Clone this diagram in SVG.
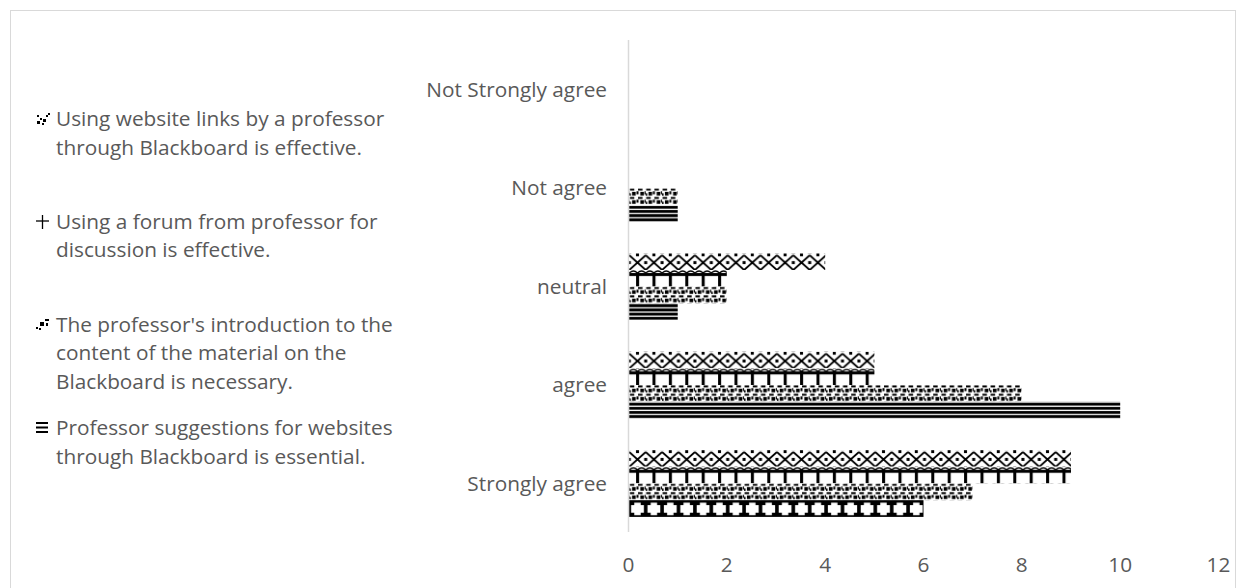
<svg xmlns="http://www.w3.org/2000/svg" width="1246" height="588" viewBox="0 0 1246 588">
<style>
.t{font-family:"Open Sans","Liberation Sans",sans-serif;font-size:20.8px;fill:#595959}
.cat{text-anchor:end}
.tick{text-anchor:middle}
</style>
<defs>
<pattern id="pLinks" patternUnits="userSpaceOnUse" width="16.4" height="16.7">
<rect width="16.4" height="16.7" fill="#fff"/>
<path d="M0,2 L16.4,16.7 M16.4,2 L0,16.7" stroke="#000" stroke-width="1.8" fill="none"/>
<rect x="6.7" y="0" width="3" height="3" fill="#000"/>
<rect x="6.7" y="7.8" width="3" height="3" fill="#000"/>
<rect x="-1.5" y="7.8" width="3" height="3" fill="#000"/>
<rect x="14.9" y="7.8" width="3" height="3" fill="#000"/>
</pattern>
<pattern id="pForum" patternUnits="userSpaceOnUse" width="16.4" height="16.7">
<rect width="16.4" height="16.7" fill="#fff"/>
<path d="M0,3 Q4,-1 8.2,3 Q12.4,-1 16.4,3" stroke="#000" stroke-width="1.3" fill="none"/>
<rect x="0" y="3" width="16.4" height="3" fill="#000"/>
<rect x="6.8" y="3" width="3" height="13.7" fill="#000"/>
</pattern>
<pattern id="pIntro" patternUnits="userSpaceOnUse" width="16.4" height="8.35">
<rect width="16.4" height="8.35" fill="#fff"/>
<rect x="0.5" y="0.3" width="4.5" height="2" fill="#000"/>
<rect x="8.7" y="0.3" width="4.5" height="2" fill="#000"/>
<rect x="2.8" y="3.6" width="3.6" height="3.6" fill="#000"/>
<rect x="11" y="3.6" width="3.6" height="3.6" fill="#000"/>
<rect x="7.2" y="3" width="2" height="3" fill="#000"/>
<rect x="15.2" y="3" width="1.2" height="3" fill="#000"/>
<rect x="0" y="5" width="1.5" height="2.4" fill="#000"/>
</pattern>
<pattern id="pStripes" patternUnits="userSpaceOnUse" width="8" height="4.175">
<rect width="8" height="4.175" fill="#fff"/>
<rect y="0.9" width="8" height="2.9" fill="#000"/>
</pattern>
<pattern id="pOct" patternUnits="userSpaceOnUse" width="16.4" height="16.7">
<rect width="16.4" height="16.7" fill="#000"/>
<polygon points="5,2.5 11.4,2.5 11.4,5 14.6,5 14.6,12.5 11.4,12.5 11.4,15 5,15 5,12.5 1.8,12.5 1.8,5 5,5" fill="#fff"/>
</pattern>
</defs>

<rect id="chartArea" x="10.5" y="10.5" width="1225" height="600" fill="#fff" stroke="#d9d9d9" stroke-width="1"/>

<g id="axis">
<line x1="628.5" y1="40" x2="628.5" y2="532" stroke="#d9d9d9" stroke-width="1.5"/>
<text class="t tick" x="628.5" y="571.5">0</text>
<text class="t tick" x="726.8" y="571.5">2</text>
<text class="t tick" x="825.2" y="571.5">4</text>
<text class="t tick" x="923.5" y="571.5">6</text>
<text class="t tick" x="1021.8" y="571.5">8</text>
<text class="t tick" x="1120.2" y="571.5">10</text>
<text class="t tick" x="1218.5" y="571.5">12</text>
</g>

<g id="categories">
<text class="t cat" x="607" y="97">Not Strongly agree</text>
<text class="t cat" x="607" y="195.3">Not agree</text>
<text class="t cat" x="607" y="293.7">neutral</text>
<text class="t cat" x="607" y="392.1">agree</text>
<text class="t cat" x="607" y="490.5">Strongly agree</text>
</g>

<g id="bars">
<g id="strongly-agree">
<rect transform="translate(629.3,450.1)" width="441.7" height="16.7" fill="url(#pLinks)"/>
<rect transform="translate(629.3,466.8)" width="441.7" height="16.7" fill="url(#pForum)"/>
<rect transform="translate(629.3,483.5)" width="343.4" height="16.7" fill="url(#pIntro)"/>
<rect transform="translate(629.3,500.2)" width="294.2" height="16.7" fill="url(#pOct)"/>
</g>
<g id="agree">
<rect transform="translate(629.3,351.7)" width="245.1" height="16.7" fill="url(#pLinks)"/>
<rect transform="translate(629.3,368.4)" width="245.1" height="16.7" fill="url(#pForum)"/>
<rect transform="translate(629.3,385.1)" width="392.6" height="16.7" fill="url(#pIntro)"/>
<rect transform="translate(629.3,401.8)" width="490.9" height="16.7" fill="url(#pStripes)"/>
</g>
<g id="neutral">
<rect transform="translate(629.3,253.3)" width="195.9" height="16.7" fill="url(#pLinks)"/>
<rect transform="translate(629.3,270)" width="97.5" height="16.7" fill="url(#pForum)"/>
<rect transform="translate(629.3,286.7)" width="97.5" height="16.7" fill="url(#pIntro)"/>
<rect transform="translate(629.3,303.4)" width="48.4" height="16.7" fill="url(#pStripes)"/>
</g>
<g id="not-agree">
<rect transform="translate(629.3,188.3)" width="48.4" height="16.7" fill="url(#pIntro)"/>
<rect transform="translate(629.3,205)" width="48.4" height="16.7" fill="url(#pStripes)"/>
</g>
</g>

<g id="legend">
<g id="legend-links">
<rect x="37" y="121" width="3" height="3" fill="#000"/>
<rect x="40" y="118" width="2" height="2" fill="#000"/>
<rect x="43" y="119" width="3" height="3" fill="#000"/>
<rect x="46" y="115" width="2" height="2" fill="#000"/>
<rect x="48" y="113" width="2" height="2" fill="#000"/>
<rect x="37" y="115" width="2" height="2" fill="#000"/>
<rect x="42" y="123" width="2" height="2" fill="#000"/>
<text class="t" x="56" y="126">Using website links by a professor</text>
<text class="t" x="56" y="154.5">through Blackboard is effective.</text>
</g>
<g id="legend-forum">
<line x1="36" y1="221" x2="49" y2="221" stroke="#000" stroke-width="1.3"/>
<line x1="42.5" y1="215" x2="42.5" y2="229" stroke="#000" stroke-width="1.3"/>
<text class="t" x="56" y="229">Using a forum from professor for</text>
<text class="t" x="56" y="257">discussion is effective.</text>
</g>
<g id="legend-intro">
<rect x="36" y="327" width="2" height="2" fill="#000"/>
<rect x="40" y="322" width="4" height="4" fill="#000"/>
<rect x="45" y="319" width="4" height="2" fill="#000"/>
<rect x="46" y="323" width="2" height="3" fill="#000"/>
<rect x="39" y="328" width="2" height="2" fill="#000"/>
<text class="t" x="56" y="331.5">The professor's introduction to the</text>
<text class="t" x="56" y="360">content of the material on the</text>
<text class="t" x="56" y="388.5">Blackboard is necessary.</text>
</g>
<g id="legend-suggestions">
<rect x="36" y="422" width="12" height="2" fill="#000"/>
<rect x="36" y="426.5" width="12" height="2" fill="#000"/>
<rect x="36" y="431" width="12" height="2" fill="#000"/>
<text class="t" x="56" y="435">Professor suggestions for websites</text>
<text class="t" x="56" y="463.5">through Blackboard is essential.</text>
</g>
</g>

<g id="connectors"/>
</svg>
